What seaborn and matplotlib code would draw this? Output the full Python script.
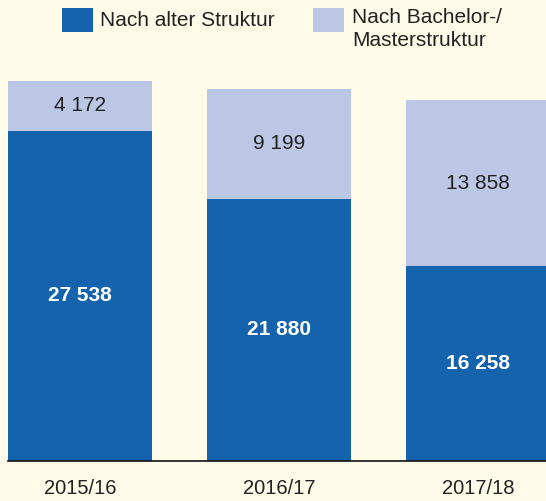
import pandas as pd
import matplotlib.pyplot as plt
import seaborn as sns
from matplotlib.patches import Rectangle

# Data
years = ['2015/16', '2016/17', '2017/18']
alt = [27538, 21880, 16258]        # Nach alter Struktur
bama = [4172, 9199, 13858]         # Nach Bachelor-/Masterstruktur

df = pd.DataFrame({'Jahr': years, 'alt': alt, 'bama': bama})
df['total'] = df['alt'] + df['bama']

bg = '#FFFBE8'
dark = '#1563AD'
light = '#BCC7E6'

sns.set_theme(style='white')
plt.rcParams['font.family'] = ['Liberation Sans', 'DejaVu Sans']

fig = plt.figure(figsize=(5.46, 5.01), dpi=100, facecolor=bg)
# axes placed so the baseline sits at y=461 px and starts at x=8 px
ax = fig.add_axes([8 / 546, 40 / 501, 538 / 546, 391 / 501])
ax.set_facecolor(bg)

bw = 0.724
sns.barplot(data=df, x='Jahr', y='total', color=light, width=bw, saturation=1,
            linewidth=0, ax=ax)
sns.barplot(data=df, x='Jahr', y='alt', color=dark, width=bw, saturation=1,
            linewidth=0, ax=ax)

ax.set_xlim(-bw / 2, 2.342)
ax.set_ylim(0, 391 / 0.011984)

# value labels
for i, (a, b) in enumerate(zip(alt, bama)):
    ax.text(i, a / 2, f'{a:,}'.replace(',', ' '), ha='center', va='center',
            fontsize=15, fontweight='bold', color='white')
    ax.text(i, a + b / 2, f'{b:,}'.replace(',', ' '), ha='center', va='center',
            fontsize=15, color='#222222')

for s in ['top', 'right', 'left']:
    ax.spines[s].set_visible(False)
ax.spines['bottom'].set_color('#111111')
ax.spines['bottom'].set_linewidth(1.2)
ax.set_yticks([])
ax.set_xlabel('')
ax.set_ylabel('')
ax.tick_params(axis='x', length=0, pad=13, labelsize=14.5, labelcolor='#222222')

# legend drawn by hand to match the two-line label
W, H = 546, 501
fig.add_artist(Rectangle((62 / W, 1 - 32 / H), 31 / W, 24 / H, transform=fig.transFigure,
                         facecolor=dark, edgecolor='none'))
fig.add_artist(Rectangle((313 / W, 1 - 32 / H), 31 / W, 24 / H, transform=fig.transFigure,
                         facecolor=light, edgecolor='none'))
fig.text(100 / W, 1 - 20 / H, 'Nach alter Struktur', fontsize=15, color='#222222', va='center')
fig.text(352 / W, 1 - 8 / H, 'Nach Bachelor-/\nMasterstruktur', fontsize=15, color='#222222',
         va='top', linespacing=1.3)

plt.savefig('out.png', dpi=100, facecolor=bg)
